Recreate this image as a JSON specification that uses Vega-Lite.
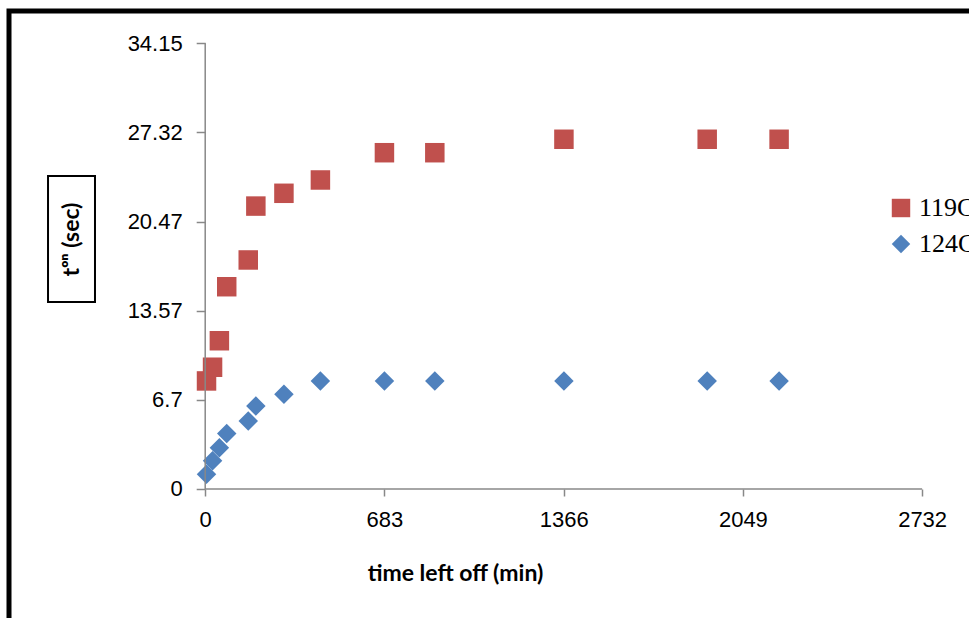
{
  "$schema": "https://vega.github.io/schema/vega-lite/v6.json",
  "width": 980,
  "height": 627,
  "autosize": {"type": "none"},
  "padding": {"left": 9, "top": 11, "right": -20, "bottom": -20},
  "background": "white",
  "config": {
    "view": {"stroke": "black", "strokeWidth": 5, "fill": "white"},
    "axis": {"grid": false, "domain": false}
  },
  "datasets": {
    "points": [
      {"time": 5, "ton": 8.28, "series": "119C̊"},
      {"time": 28, "ton": 9.33, "series": "119C̊"},
      {"time": 54, "ton": 11.36, "series": "119C̊"},
      {"time": 82, "ton": 15.5, "series": "119C̊"},
      {"time": 164, "ton": 17.55, "series": "119C̊"},
      {"time": 193, "ton": 21.68, "series": "119C̊"},
      {"time": 300, "ton": 22.66, "series": "119C̊"},
      {"time": 439, "ton": 23.68, "series": "119C̊"},
      {"time": 683, "ton": 25.77, "series": "119C̊"},
      {"time": 875, "ton": 25.77, "series": "119C̊"},
      {"time": 1367, "ton": 26.8, "series": "119C̊"},
      {"time": 1913, "ton": 26.8, "series": "119C̊"},
      {"time": 2187, "ton": 26.8, "series": "119C̊"},
      {"time": 5, "ton": 1.13, "series": "124C̊"},
      {"time": 28, "ton": 2.17, "series": "124C̊"},
      {"time": 54, "ton": 3.16, "series": "124C̊"},
      {"time": 82, "ton": 4.26, "series": "124C̊"},
      {"time": 164, "ton": 5.21, "series": "124C̊"},
      {"time": 193, "ton": 6.36, "series": "124C̊"},
      {"time": 300, "ton": 7.26, "series": "124C̊"},
      {"time": 439, "ton": 8.28, "series": "124C̊"},
      {"time": 683, "ton": 8.28, "series": "124C̊"},
      {"time": 875, "ton": 8.28, "series": "124C̊"},
      {"time": 1367, "ton": 8.28, "series": "124C̊"},
      {"time": 1913, "ton": 8.28, "series": "124C̊"},
      {"time": 2187, "ton": 8.28, "series": "124C̊"}
    ]
  },
  "layer": [
    {
      "data": {"name": "points"},
      "mark": {"type": "point", "filled": true, "opacity": 1, "size": 380},
      "encoding": {
        "x": {
          "field": "time",
          "type": "quantitative",
          "scale": {"domain": [-747.7, 2986.9], "nice": false, "zero": false},
          "axis": {
            "values": [0, 683, 1366, 2049, 2732],
            "format": "d",
            "offset": -149,
            "tickSize": 7,
            "tickColor": "#888888",
            "tickWidth": 1.5,
            "labelPadding": 13,
            "labelFont": "Liberation Sans",
            "labelFontSize": 22,
            "labelColor": "black",
            "title": "time left off (min)",
            "titleFont": "Lato",
            "titleFontWeight": "bold",
            "titleFontSize": 23,
            "titleColor": "black",
            "titleX": 446,
            "titleY": 91,
            "titleAlign": "center",
            "titleBaseline": "alphabetic"
          }
        },
        "y": {
          "field": "ton",
          "type": "quantitative",
          "scale": {"domain": [-11.42, 36.63], "nice": false, "zero": false},
          "axis": {
            "values": [0, 6.83, 13.66, 20.49, 27.32, 34.15],
            "labelExpr": "round(datum.value*100)==683 ? '6.7' : round(datum.value*100)==1366 ? '13.57' : round(datum.value*100)==2049 ? '20.47' : round(datum.value*100)==2732 ? '27.32' : round(datum.value*100)==3415 ? '34.15' : '0'",
            "offset": -196.2,
            "tickSize": 9,
            "tickColor": "#888888",
            "tickWidth": 1.5,
            "labelPadding": 14,
            "labelFont": "Liberation Sans",
            "labelFontSize": 22,
            "labelColor": "black",
            "title": "tᵒⁿ (sec)",
            "titleFont": "Lato",
            "titleFontWeight": "bold",
            "titleFontSize": 23,
            "titleColor": "black",
            "titleAngle": -90,
            "titleX": -133.7,
            "titleY": 228,
            "titleAlign": "center",
            "titleBaseline": "middle"
          }
        },
        "color": {
          "field": "series",
          "type": "nominal",
          "scale": {"domain": ["119C̊", "124C̊"], "range": ["#C0504D", "#4F81BD"]},
          "legend": {
            "title": null,
            "orient": "none",
            "legendX": 879,
            "legendY": 184,
            "symbolSize": 340,
            "symbolOpacity": 1,
            "symbolStrokeWidth": 0,
            "labelFont": "Liberation Serif",
            "labelFontSize": 26,
            "labelColor": "black",
            "labelOffset": 5,
            "rowPadding": 10,
            "padding": 0
          }
        },
        "shape": {
          "field": "series",
          "type": "nominal",
          "scale": {"domain": ["119C̊", "124C̊"], "range": ["square", "diamond"]}
        }
      }
    },
    {
      "data": {"values": [{}]},
      "mark": {"type": "rule", "color": "#888888", "strokeWidth": 1.5},
      "encoding": {
        "x": {"datum": 0, "type": "quantitative"},
        "y": {"datum": 0, "type": "quantitative"},
        "y2": {"datum": 34.15}
      }
    },
    {
      "data": {"values": [{}]},
      "mark": {"type": "rule", "color": "#888888", "strokeWidth": 1.5},
      "encoding": {
        "x": {"datum": 0, "type": "quantitative"},
        "x2": {"datum": 2732},
        "y": {"datum": 0, "type": "quantitative"}
      }
    },
    {
      "data": {"values": [{}]},
      "mark": {"type": "rect", "fillOpacity": 0, "stroke": "black", "strokeWidth": 2},
      "encoding": {
        "x": {"datum": -599, "type": "quantitative"},
        "x2": {"datum": -420},
        "y": {"datum": 23.98, "type": "quantitative"},
        "y2": {"datum": 14.33}
      }
    }
  ]
}
